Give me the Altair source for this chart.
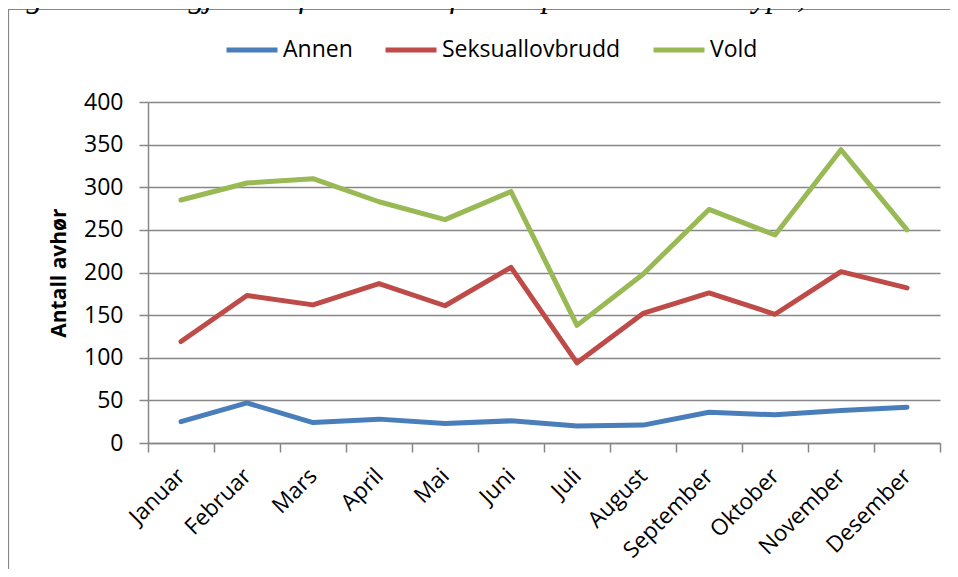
import altair as alt
import pandas as pd

months = ["Januar", "Februar", "Mars", "April", "Mai", "Juni", "Juli",
          "August", "September", "Oktober", "November", "Desember"]
series = ["Annen", "Seksuallovbrudd", "Vold"]
annen = [25, 47, 24, 28, 23, 26, 20, 21, 36, 33, 38, 42]
seksual = [119, 173, 162, 187, 161, 206, 94, 152, 176, 151, 201, 182]
vold = [285, 305, 310, 283, 262, 295, 138, 198, 274, 244, 344, 250]
colors = ["#4A7EBB", "#BE4B48", "#98B954"]
y_ticks = [0, 50, 100, 150, 200, 250, 300, 350, 400]
caption = "Figur 2 Antall gjennomførte avhør fordelt på kriminalitetstype, 2010"

rows = []
for name, vals in zip(series, [annen, seksual, vold]):
    for m, v in zip(months, vals):
        rows.append({"Måned": m, "Serie": name, "Antall": v})
df = pd.DataFrame(rows)

FONT = "Open Sans"
GRID = "#878787"

border = alt.Chart(pd.DataFrame({"k": [0]})).mark_rect(
    fill="transparent", stroke=GRID, strokeWidth=1.2
).encode(
    x=alt.value(-139.5), x2=alt.value(950),
    y=alt.value(-92.5), y2=alt.value(700)
)

cap = alt.Chart(pd.DataFrame({"t": [caption]})).mark_text(
    font="Liberation Serif", fontStyle="italic", fontSize=32, align="left",
    baseline="alphabetic", color="#000"
).encode(
    text="t:N", x=alt.value(-150), y=alt.value(-95.5)
)

lines = alt.Chart(df).mark_line(strokeWidth=5, strokeCap="round", strokeJoin="round").encode(
    x=alt.X("Måned:N", sort=months, bandPosition=0.5,
            scale=alt.Scale(type="band", paddingInner=0, paddingOuter=0),
            axis=alt.Axis(title=None, labelAngle=-45, labelAlign="right",
                          labelBaseline="middle", labelFont=FONT, labelFontSize=22.5,
                          labelColor="#000", labelPadding=20, tickBand="extent",
                          tickColor=GRID, tickSize=9, tickWidth=1.5,
                          domainColor=GRID, domainWidth=1.5, grid=False)),
    y=alt.Y("Antall:Q", scale=alt.Scale(domain=[0, 400], nice=False),
            axis=alt.Axis(title="Antall avhør", values=y_ticks, titleFont=FONT,
                          titleFontSize=21, titleFontWeight="bold", titleColor="#000",
                          titlePadding=14, labelFont=FONT, labelFontSize=23,
                          labelColor="#000", labelPadding=16, tickColor=GRID,
                          tickSize=9, tickWidth=1.5, domainColor=GRID,
                          domainWidth=1.5, gridColor=GRID, gridWidth=1.5)),
    color=alt.Color("Serie:N", scale=alt.Scale(domain=series, range=colors),
                    legend=alt.Legend(title=None, orient="none", direction="horizontal",
                                      legendX=76, legendY=-80, symbolType="stroke",
                                      symbolSize=2601, symbolStrokeWidth=5,
                                      labelFont=FONT, labelFontSize=23, labelColor="#000",
                                      labelLimit=0, labelOffset=3, columnPadding=22))
)

chart = alt.layer(border, cap, lines).properties(
    width=792, height=341,
    autosize=alt.AutoSizeParams(type="none"),
    padding={"left": 140, "top": 94, "right": 10, "bottom": 126},
).configure_view(stroke=None)

chart.save("out.html", embed_options={"renderer": "svg", "actions": False})
